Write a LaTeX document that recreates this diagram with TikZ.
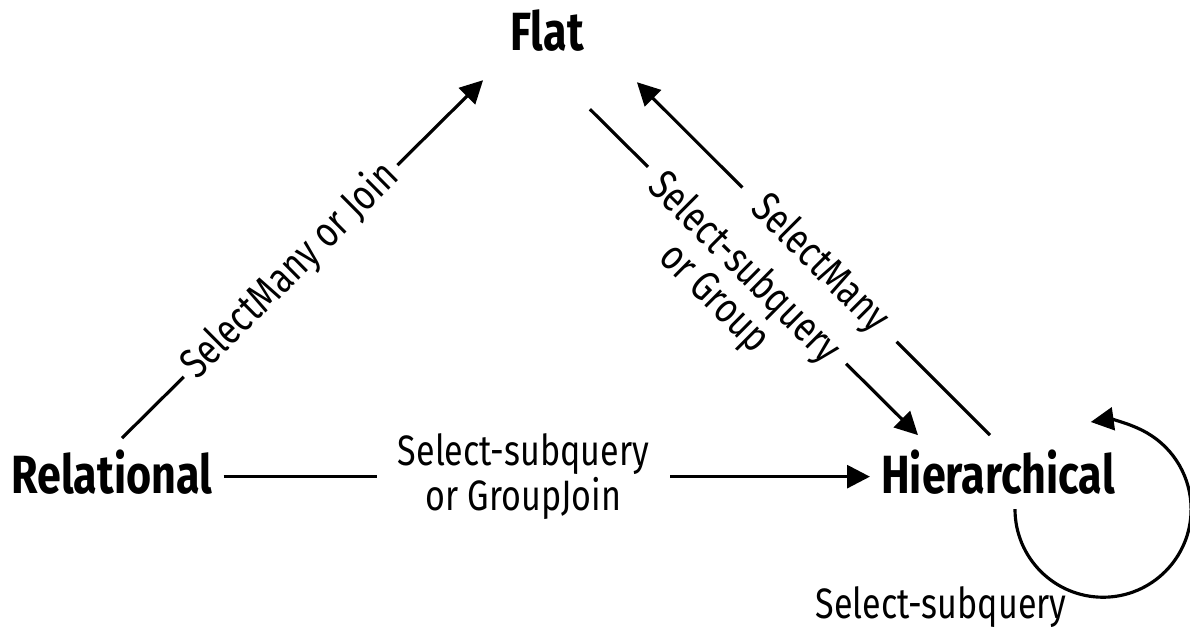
\documentclass[tikz,border=0pt]{standalone}
\usepackage{fontspec}
\setmainfont[FakeStretch=0.8]{Fira Sans}
\usetikzlibrary{arrows.meta, positioning}

\begin{document}
\begin{tikzpicture}[x=0.01cm, y=-0.01cm, >={Triangle[length=6.5pt, width=6.5pt]}]
  \tikzstyle{form} = [font=\fontsize{15.3}{18}\selectfont\bfseries, inner sep=3pt]
  \tikzstyle{lbl} = [font=\fontsize{12.1}{12}\selectfont, align=center, fill=white, inner sep=1pt]
  \tikzstyle{conn} = [->, line width=0.9pt]
  \useasboundingbox (0,0) rectangle (1190,626);

  % Forms
  \node (flat) [form, anchor=base] at (547,50) {Flat};
  \node (rel)  [form, anchor=base] at (112,493) {Relational};
  \node (hier) [form, anchor=base] at (998,493) {Hierarchical};

  % Conversions
  \draw[conn] ([shift={(0,5)}]rel.east) -- node[lbl, pos=0.464, inner xsep=6pt] {Select-subquery\\or GroupJoin} ([shift={(0,5)}]hier.west);
  \draw[conn] ([shift={(10,0)}]rel.north) -- node[lbl, sloped, pos=0.467, inner xsep=2pt] {SelectMany or Join} ([shift={(-16,18)}]flat.south west);
  \draw[conn] ([shift={(-5,47)}]flat.south east) -- node[lbl, sloped, pos=0.479, inner xsep=4pt, yshift=-0.26cm] {Select-subquery\\or Group} ([shift={(-80,-3)}]hier.north);
  \draw[conn] ([shift={(-8,-3)}]hier.north) -- node[lbl, sloped, pos=0.483, inner xsep=6pt] {SelectMany} ([shift={(42,20)}]flat.south east);

  % Self loop
  \draw[conn] ([shift={(17,4)}]hier.south) arc[start angle=180, end angle=458, radius=0.88cm];
  \node (self) [lbl, fill=none, anchor=base] at ([shift={(-57,125)}]hier.base) {Select-subquery};
\end{tikzpicture}
\end{document}
